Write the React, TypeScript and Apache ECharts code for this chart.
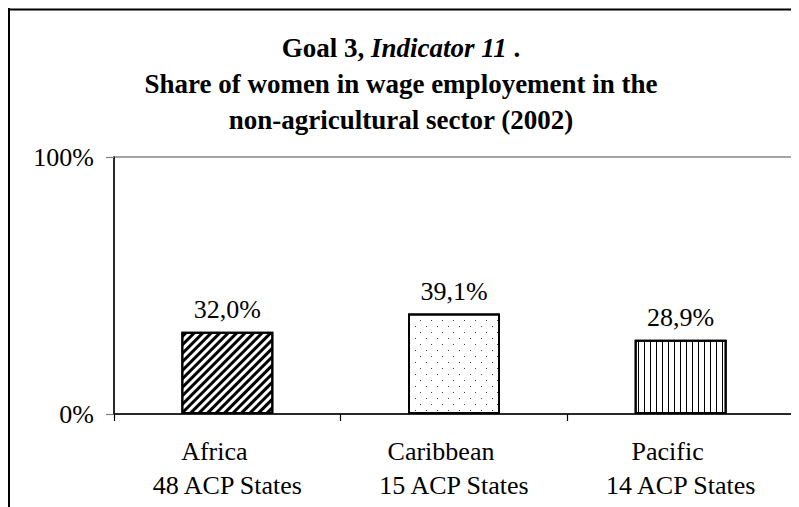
import React, { useEffect, useRef } from "react";
import * as echarts from "echarts";

const categories = ["Africa", "Caribbean", "Pacific"];
const subLabels = ["48 ACP States", "15 ACP States", "14 ACP States"];
const values = [32.0, 39.1, 28.9];
const yMin = 0;
const yMax = 100;
const titleLine1 = ["Goal 3, ", "Indicator 11", " ."];
const titleLine2 = "Share of women in wage employement in the";
const titleLine3 = "non-agricultural sector (2002)";

const FONT = "'Liberation Serif', 'Times New Roman', serif";

export default function App() {
  const ref = useRef<HTMLDivElement>(null);
  useEffect(() => {
    if (!ref.current) return;
    const chart = echarts.init(ref.current, undefined, { renderer: "svg" });
    const decals = [
      {
        symbol: "rect",
        symbolSize: 1,
        symbolKeepAspect: false,
        color: "#000",
        dashArrayX: [1, 0],
        dashArrayY: [3, 3],
        rotation: -Math.PI / 4,
      },
      {
        symbol: "rect",
        symbolSize: 1,
        symbolKeepAspect: false,
        color: "#444",
        dashArrayX: [[1, 10], [0, 5, 1, 5]],
        dashArrayY: [1, 5],
        rotation: 0,
      },
      {
        symbol: "rect",
        symbolSize: 1,
        symbolKeepAspect: false,
        color: "#000",
        dashArrayX: [1, 5],
        dashArrayY: [1, 0],
        rotation: 0,
      },
    ];
    const option: any = {
      animation: false,
      backgroundColor: "#fff",
      title: {
        text:
          `{b|${titleLine1[0]}}{bi|${titleLine1[1]}}{b|${titleLine1[2]}}\n` +
          `{b|${titleLine2}}\n{b|${titleLine3}}`,
        left: 388,
        top: 17,
        textAlign: "center",
        textStyle: {
          fontFamily: FONT,
          rich: {
            b: { fontFamily: FONT, fontSize: 27, fontWeight: "bold", color: "#000", lineHeight: 36 },
            bi: { fontFamily: FONT, fontSize: 27, fontWeight: "bold", fontStyle: "italic", color: "#000", lineHeight: 36 },
          },
        },
      },
      grid: {
        left: 106,
        top: 149,
        right: 5,
        bottom: 93,
        show: true,
        borderColor: "#888",
        borderWidth: 1.5,
        containLabel: false,
      },
      xAxis: {
        type: "category",
        data: categories,
        axisLine: { show: true, lineStyle: { color: "#000", width: 1.5 } },
        axisTick: { show: true, interval: 0, length: 7, lineStyle: { color: "#000", width: 1.2 } },
        axisLabel: {
          interval: 0,
          margin: 20,
          fontFamily: FONT,
          fontSize: 26,
          lineHeight: 34,
          color: "#000",
          formatter: (v: string, i: number) => `{a|${v}}\n{s|${subLabels[i]}}`,
          rich: {
            a: { fontFamily: FONT, fontSize: 26, lineHeight: 34, color: "#000", padding: [0, 26, 0, 0] },
            s: { fontFamily: FONT, fontSize: 26, lineHeight: 34, color: "#000" },
          },
        },
      },
      yAxis: {
        type: "value",
        min: yMin,
        max: yMax,
        interval: 100,
        splitLine: { show: false },
        axisLine: { show: true, lineStyle: { color: "#000", width: 1.5 } },
        axisTick: { show: true, length: 8, lineStyle: { color: "#808080", width: 1.2 } },
        axisLabel: {
          margin: 20,
          fontFamily: FONT,
          fontSize: 26,
          color: "#000",
          formatter: (v: number) => `${v}%`,
        },
      },
      series: [
        {
          type: "bar",
          barWidth: 92,
          data: values.map((v, i) => ({
            value: v,
            itemStyle: { color: "#fff", borderColor: "#000", borderWidth: 2, decal: decals[i] },
          })),
          label: {
            show: true,
            position: "top",
            distance: 9,
            fontFamily: FONT,
            fontSize: 26,
            color: "#000",
            formatter: (p: any) => `${p.value.toFixed(1).replace(".", ",")}%`,
          },
        },
      ],
      graphic: [
        { type: "line", shape: { x1: 1, y1: 0, x2: 1, y2: 499 }, style: { stroke: "#000", lineWidth: 2 } },
        { type: "line", shape: { x1: 0, y1: 1.5, x2: 791, y2: 1.5 }, style: { stroke: "#000", lineWidth: 2 } },
      ],
    };
    chart.setOption(option);
    return () => chart.dispose();
  }, []);
  return <div ref={ref} style={{ width: 791, height: 499 }} />;
}
